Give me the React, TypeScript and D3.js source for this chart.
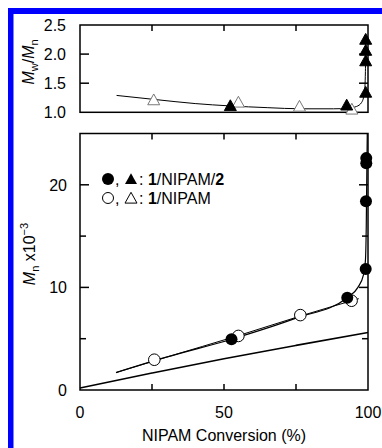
import React from "react";
import * as d3 from "d3";

// ---- Data ----
// Bottom panel: Mn x10^-3 vs NIPAM conversion (%)
const filledCircleConv = [52.6, 92.8, 99.2, 99.3, 99.4, 99.4];
const filledCircleMn = [4.95, 9.0, 11.8, 18.4, 22.1, 22.6];
const openCircleConv = [25.8, 55.0, 76.5, 94.3];
const openCircleMn = [2.95, 5.27, 7.3, 8.7];
// fitted line through open circles (1/NIPAM)
const openFitConv = [12.5, 30, 55, 77, 96.8];
const openFitMn = [1.7, 3.2, 5.3, 7.25, 8.9];
// fitted curve through filled circles (1/NIPAM/2)
const filledFitConv = [12.5, 30, 52.6, 75, 92.8, 96.5, 98.4, 99.1, 99.4, 99.6, 99.75];
const filledFitMn = [1.7, 3.2, 4.95, 7.0, 9.0, 10.0, 11.2, 12.6, 16.0, 21.5, 25.0];
// theoretical Mn line
const theoryConv = [0, 25, 50, 75, 100];
const theoryMn = [0.2, 1.65, 3.05, 4.35, 5.6];

// Top panel: Mw/Mn vs conversion
const filledTriConv = [52.2, 92.6, 99.2, 99.2, 99.2, 99.2];
const filledTriPdi = [1.1, 1.11, 1.33, 1.87, 2.05, 2.24];
const openTriConv = [25.6, 55.0, 76.2, 94.4];
const openTriPdi = [1.2, 1.16, 1.09, 1.04];
const pdiFitConv = [12.7, 26, 40, 52, 65, 77, 88, 93, 96, 97.8, 98.8, 99.1, 99.25];
const pdiFitPdi = [1.29, 1.22, 1.15, 1.11, 1.08, 1.06, 1.06, 1.07, 1.1, 1.17, 1.35, 1.7, 2.28];

const xTicks = [0, 50, 100];
const xMinorTicks = [25, 75];
const topYTicks = [1.0, 1.5, 2.0, 2.5];
const botYTicks = [0, 10, 20];
const botYMinorTicks = [5, 15];

const W = 382;
const H = 448;
const FONT = "'Liberation Sans', Arial, Helvetica, sans-serif";

export default function App() {
  const x = d3.scaleLinear().domain([0, 100]).range([80, 368]);
  const yTop = d3.scaleLinear().domain([1.0, 2.5]).range([112.3, 25]);
  const yBot = d3.scaleLinear().domain([0, 25]).range([390, 133.5]);

  const mk = (xs: number[], ys: number[], ys2: d3.ScaleLinear<number, number>, curve: d3.CurveFactory) =>
    d3
      .line<number>()
      .x((_, i) => x(xs[i]))
      .y((d) => ys2(d))
      .curve(curve)(ys) || "";

  const triPath = (cx: number, cy: number, s: number) => {
    const h = s * 0.9;
    return `M${cx},${cy - h * 0.62}L${cx + s / 2},${cy + h * 0.38}L${cx - s / 2},${cy + h * 0.38}Z`;
  };

  const frame = (top: number, bottom: number) => (
    <rect x={80} y={top} width={288} height={bottom - top} fill="none" stroke="#000" strokeWidth={1.5} />
  );

  const major = 9;
  const minor = 6;

  return (
    <svg width={W} height={H} style={{ position: "absolute", left: 0, top: 0 }} fontFamily={FONT}>
      <rect x={0} y={0} width={W} height={H} fill="#fff" />
      {/* blue border */}
      <rect x={8} y={8} width={W - 8} height={6} fill="#0000ff" />
      <rect x={8} y={8} width={5.5} height={H - 8} fill="#0000ff" />

      {/* ---------- TOP PANEL ---------- */}
      {frame(yTop(2.5), yTop(1.0))}
      {xMinorTicks.concat([50]).map((t) => (
        <line key={"tt" + t} x1={x(t)} x2={x(t)} y1={yTop(2.5)} y2={yTop(2.5) + 6} stroke="#000" strokeWidth={1.5} />
      ))}
      {topYTicks.slice(1, 3).map((t) => (
        <g key={"ty" + t}>
          <line x1={x(0)} x2={x(0) + major} y1={yTop(t)} y2={yTop(t)} stroke="#000" strokeWidth={1.5} />
          <line x1={x(100)} x2={x(100) - major} y1={yTop(t)} y2={yTop(t)} stroke="#000" strokeWidth={1.5} />
        </g>
      ))}
      {topYTicks.map((t) => (
        <text key={"tyl" + t} x={66} y={yTop(t)} dy="0.36em" textAnchor="end" fontSize={16}>
          {t.toFixed(1)}
        </text>
      ))}
      <text transform={`translate(34,62) rotate(-90)`} textAnchor="middle" fontSize={16}>
        <tspan fontStyle="italic">M</tspan>
        <tspan fontSize={11} dy={4}>w</tspan>
        <tspan dy={-4}>/</tspan>
        <tspan fontStyle="italic">M</tspan>
        <tspan fontSize={11} dy={4}>n</tspan>
      </text>
      <path d={mk(pdiFitConv, pdiFitPdi, yTop, d3.curveMonotoneX)} fill="none" stroke="#000" strokeWidth={1} />
      {openTriConv.map((c, i) => (
        <path key={"ot" + i} d={triPath(x(c), yTop(openTriPdi[i]), 12)} fill="#fff" stroke="#777" strokeWidth={1} />
      ))}
      {filledTriConv.map((c, i) => (
        <path key={"ft" + i} d={triPath(x(c), yTop(filledTriPdi[i]), 12)} fill="#000" stroke="#000" strokeWidth={1} />
      ))}

      {/* ---------- BOTTOM PANEL ---------- */}
      {frame(yBot(25), yBot(0))}
      {xMinorTicks.concat([50]).map((t) => (
        <g key={"bt" + t}>
          <line x1={x(t)} x2={x(t)} y1={yBot(25)} y2={yBot(25) + 6} stroke="#000" strokeWidth={1.5} />
          <line x1={x(t)} x2={x(t)} y1={yBot(0)} y2={yBot(0) - 6} stroke="#000" strokeWidth={1.5} />
        </g>
      ))}
      {botYTicks.slice(1).map((t) => (
        <g key={"by" + t}>
          <line x1={x(0)} x2={x(0) + major} y1={yBot(t)} y2={yBot(t)} stroke="#000" strokeWidth={1.5} />
          <line x1={x(100)} x2={x(100) - major} y1={yBot(t)} y2={yBot(t)} stroke="#000" strokeWidth={1.5} />
        </g>
      ))}
      {botYMinorTicks.map((t) => (
        <g key={"bym" + t}>
          <line x1={x(0)} x2={x(0) + minor} y1={yBot(t)} y2={yBot(t)} stroke="#000" strokeWidth={1.5} />
          <line x1={x(100)} x2={x(100) - minor} y1={yBot(t)} y2={yBot(t)} stroke="#000" strokeWidth={1.5} />
        </g>
      ))}
      {botYTicks.map((t) => (
        <text key={"byl" + t} x={67} y={yBot(t)} dy="0.36em" textAnchor="end" fontSize={16}>
          {t}
        </text>
      ))}
      {xTicks.map((t) => (
        <text key={"bxl" + t} x={x(t)} y={418} textAnchor="middle" fontSize={16}>
          {t}
        </text>
      ))}
      <text x={x(50)} y={441} textAnchor="middle" fontSize={16}>
        NIPAM Conversion (%)
      </text>
      <text transform={`translate(35,254) rotate(-90)`} textAnchor="middle" fontSize={16}>
        <tspan fontStyle="italic">M</tspan>
        <tspan fontSize={11} dy={4}>n</tspan>
        <tspan dy={-4}> x10</tspan>
        <tspan fontSize={11} dy={-7}>−3</tspan>
      </text>

      {/* lines */}
      <path d={mk(theoryConv, theoryMn, yBot, d3.curveMonotoneX)} fill="none" stroke="#000" strokeWidth={1.6} />
      <path d={mk(openFitConv, openFitMn, yBot, d3.curveMonotoneX)} fill="none" stroke="#000" strokeWidth={1} />
      <path d={mk(filledFitConv, filledFitMn, yBot, d3.curveMonotoneX)} fill="none" stroke="#000" strokeWidth={1.2} />

      {openCircleConv.map((c, i) => (
        <circle key={"oc" + i} cx={x(c)} cy={yBot(openCircleMn[i])} r={5.8} fill="#fff" stroke="#000" strokeWidth={1} />
      ))}
      {filledCircleConv.map((c, i) => (
        <circle key={"fc" + i} cx={x(c)} cy={yBot(filledCircleMn[i])} r={6} fill="#000" />
      ))}

      {/* legend */}
      <circle cx={108} cy={179} r={6} fill="#000" />
      <text x={115} y={185} fontSize={16}>,</text>
      <path d={triPath(131, 180, 12)} fill="#000" />
      <text x={139} y={185} fontSize={16}>
        : <tspan fontWeight="bold">1</tspan>/NIPAM/<tspan fontWeight="bold">2</tspan>
      </text>
      <circle cx={108} cy={198} r={5.5} fill="#fff" stroke="#000" strokeWidth={1} />
      <text x={115} y={204} fontSize={16}>,</text>
      <path d={triPath(131, 199, 12)} fill="#fff" stroke="#000" strokeWidth={1} />
      <text x={139} y={204} fontSize={16}>
        : <tspan fontWeight="bold">1</tspan>/NIPAM
      </text>
    </svg>
  );
}
